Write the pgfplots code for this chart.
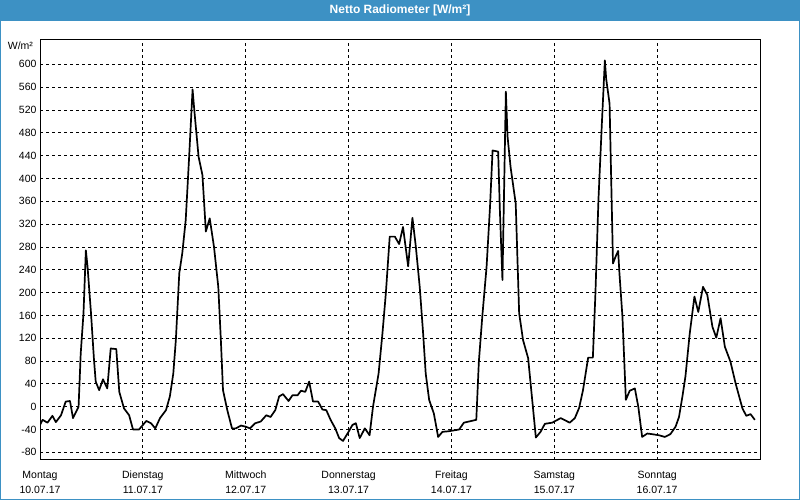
\documentclass[border=0pt]{standalone}
\usepackage{pgfplots}
\pgfplotsset{compat=1.18}
\usepackage{fontspec}
\setmainfont{Liberation Sans}
\definecolor{titleblue}{RGB}{61,145,196}
\begin{document}
\begin{tikzpicture}
\fill[white] (0pt,0pt) rectangle (800pt,500pt);
\fill[titleblue] (0pt,479pt) rectangle (800pt,500pt);
\draw[titleblue, line width=1pt] (0.5pt,0.5pt) rectangle (799.5pt,499.5pt);
\node[text=white, font=\bfseries\fontsize{12}{14}\selectfont] at (400pt,489.5pt) {Netto Radiometer [W/m²]};
\begin{axis}[
  at={(40pt,40pt)}, anchor=south west,
  scale only axis, width=720pt, height=420pt,
  xmin=0, xmax=168, ymin=-93.4, ymax=642.6,
  xtick={0,24,...,144},
  xticklabels={{Montag\\10.07.17},{Dienstag\\11.07.17},{Mittwoch\\12.07.17},{Donnerstag\\13.07.17},{Freitag\\14.07.17},{Samstag\\15.07.17},{Sonntag\\16.07.17}},
  xticklabel style={align=center, font=\fontsize{10.5}{15}\selectfont, yshift=-7.5pt},
  ytick={-80,-40,...,600},
  yticklabel style={font=\fontsize{10.5}{12}\selectfont},
  /pgf/number format/assume math mode=true,
  grid=major,
  major grid style={black, dash pattern=on 3pt off 3pt, line width=0.8pt},
  tick style={draw=none},
  axis line style={line width=1pt},
]
\addplot[black, line width=1.7pt, line join=round] table {
0 -32
0.6 -23
1.75 -28
2.9 -16
3.7 -27
4.9 -15
6.0 9
7.0 10
7.7 -20
9.0 0
9.5 93
10.15 164
10.7 274
11.1 245
11.5 204
11.9 164
12.6 82
13.0 44
13.8 29
14.7 48
15.7 32
16.5 102
17.8 101
18.5 26
19.6 -3
20.8 -15
21.7 -40
23.1 -40
24.8 -25
25.9 -29
26.9 -38
28.0 -20
29.4 -6
30.3 18
31.1 58
31.7 117
32.5 234
33.2 269
34.0 327
34.8 438
35.6 556
36.0 520
37.0 438
37.9 406
38.7 307
39.6 330
40.6 280
41.6 210
42.2 117
42.7 29
43.7 -6
44.8 -38
45.7 -38
46.9 -33
48.0 -35
49.0 -38
50.2 -29
51.5 -26
52.8 -15
53.8 -18
54.9 -6
55.8 18
56.7 22
58.0 10
58.9 20
60.1 20
60.9 28
61.9 26
62.8 44
63.7 9
64.9 9
65.9 -5
66.8 -6
67.8 -23
68.9 -38
69.8 -55
70.7 -60
72.0 -44
72.9 -32
73.7 -29
74.6 -55
75.8 -38
76.9 -50
77.7 0
79.0 58
79.9 128
80.7 199
81.6 298
82.8 298
83.8 285
84.7 315
85.9 246
86.9 331
87.7 280
88.6 210
89.4 128
90.0 58
90.8 12
91.9 -12
92.9 -53
93.9 -44
95.4 -43
97.8 -40
98.9 -28
101.8 -23
102.4 79
103.2 158
104.2 245
105.0 350
105.6 449
106.9 447
107.3 345
107.9 222
108.3 385
108.7 552
109.1 473
109.8 420
111.0 356
111.8 164
112.7 117
113.9 85
115.7 -54
116.8 -44
117.8 -30
119.5 -28
121.5 -20
123.6 -28
124.8 -20
125.8 -2
126.7 29
127.9 86
129.0 86
129.6 199
130.3 362
131.1 496
131.8 607
132.1 575
132.9 531
133.3 391
133.7 251
134.3 263
134.9 273
135.2 234
135.9 158
136.7 12
137.6 28
138.8 32
139.6 0
140.5 -53
141.7 -47
142.7 -48
144.4 -50
145.8 -53
147.1 -48
148.3 -35
149.1 -18
149.9 18
150.6 53
151.6 128
152.7 193
153.6 166
154.7 210
155.7 196
156.9 140
157.8 121
158.8 155
159.8 105
161.1 79
162.3 41
163.9 -3
164.8 -16
165.8 -13
166.8 -23
};
\end{axis}
\node[anchor=east, font=\fontsize{10.5}{12}\selectfont] at (36.5pt,454pt) {W/m²};
\end{tikzpicture}
\end{document}
